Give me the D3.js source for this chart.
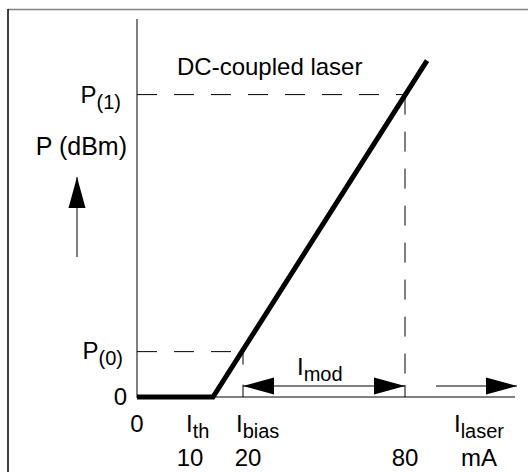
<!DOCTYPE html>
<html>
<head>
<meta charset="utf-8">
<script src="https://cdn.jsdelivr.net/npm/d3@7"></script>
<style>
  body { margin: 0; background: #fff; }
  text { font-family: "Liberation Sans", Arial, sans-serif; fill: #000; }
</style>
</head>
<body>
<div id="chart"></div>
<script>
//laser current (mA) vs optical power (arbitrary units), schematic
let laserCurrent = [0, 10, 84];
let laserPower = [0, 0, 8.9];

//operating points
let iThreshold = 10;
let iBias = 20;
let iHigh = 80;
let p0 = 1.2;
let p1 = 8.0;

//tick labels on the current axis
let tickValues = [0, 10, 20, 80];
let tickNames = ["0", "10", "20", "80"];

let width = 528, height = 472;
let mainSize = "24px", subSize = "20px";

let svg = d3.select("#chart")
    .append("svg")
    .attr("width", width)
    .attr("height", height);

//frame
svg.append("line").attr("x1", 8).attr("x2", width).attr("y1", 9.5).attr("y2", 9.5)
    .attr("stroke", "#808080").attr("stroke-width", 1.5);
svg.append("line").attr("x1", 8).attr("x2", 8).attr("y1", 9).attr("y2", height)
    .attr("stroke", "#000").attr("stroke-width", 1.5);

//schematic (piecewise) current scale
let x = d3.scaleLinear()
    .domain([0, 10, 20, 80, 100])
    .range([137, 213, 243, 405, 515]);

let y = d3.scaleLinear()
    .domain([0, 10])
    .range([397, 19]);

//axes
svg.append("line")
    .attr("x1", x(0)).attr("x2", x(0)).attr("y1", y(10)).attr("y2", y(0) + 1)
    .attr("stroke", "#808080").attr("stroke-width", 2);
svg.append("line")
    .attr("x1", x(0)).attr("x2", x(100)).attr("y1", y(0)).attr("y2", y(0))
    .attr("stroke", "#808080").attr("stroke-width", 2);

//dashed guides
let dash = "20,17";
svg.append("line")
    .attr("x1", x(0)).attr("x2", x(iHigh)).attr("y1", y(p1)).attr("y2", y(p1))
    .attr("stroke", "#000").attr("stroke-width", 1).attr("stroke-dasharray", dash);
svg.append("line")
    .attr("x1", x(iHigh)).attr("x2", x(iHigh)).attr("y1", y(p1)).attr("y2", y(0) - 12)
    .attr("stroke", "#000").attr("stroke-width", 1).attr("stroke-dasharray", dash);
svg.append("line")
    .attr("x1", x(0)).attr("x2", x(iBias)).attr("y1", y(p0)).attr("y2", y(p0))
    .attr("stroke", "#000").attr("stroke-width", 1).attr("stroke-dasharray", dash);
svg.append("line")
    .attr("x1", x(iBias)).attr("x2", x(iBias)).attr("y1", y(p0)).attr("y2", y(0) - 12)
    .attr("stroke", "#000").attr("stroke-width", 1).attr("stroke-dasharray", "13,20");

//extension ticks for the modulation arrow
[iBias, iHigh].forEach(function(v) {
    svg.append("line")
        .attr("x1", x(v)).attr("x2", x(v)).attr("y1", y(0) - 12).attr("y2", y(0))
        .attr("stroke", "#000").attr("stroke-width", 1);
});

//laser characteristic
let line = d3.line()
    .x(function(d, i) { return x(laserCurrent[i]) })
    .y(function(d, i) { return y(laserPower[i]) });

svg.append("path")
    .attr("d", line(laserCurrent))
    .attr("fill", "none")
    .attr("stroke", "#000")
    .attr("stroke-width", 5)
    .attr("stroke-linejoin", "miter");

//arrow helper: line with filled head(s)
function arrow(x1, y1, x2, y2, both) {
    let len = 31, half = 8.5;
    let dx = x2 - x1, dy = y2 - y1;
    let d = Math.sqrt(dx * dx + dy * dy);
    let ux = dx / d, uy = dy / d;
    svg.append("line")
        .attr("x1", x1).attr("y1", y1).attr("x2", x2).attr("y2", y2)
        .attr("stroke", "#000").attr("stroke-width", 1);
    let head = function(tx, ty, sx, sy) {
        let bx = tx - sx * len, by = ty - sy * len;
        svg.append("path")
            .attr("d", `M${tx},${ty}L${bx - sy * half},${by + sx * half}L${bx + sy * half},${by - sx * half}Z`)
            .attr("fill", "#000");
    };
    head(x2, y2, ux, uy);
    if (both) head(x1, y1, -ux, -uy);
}

let arrowY = y(0) - 11;
arrow(x(iBias), arrowY, x(iHigh), arrowY, true);
arrow(436, arrowY, 517, arrowY, false);
arrow(77, 257, 77, 177, false);

//subscript text helper
function subText(px, py, main, sub, anchor) {
    let t = svg.append("text")
        .attr("x", px).attr("y", py)
        .attr("text-anchor", anchor)
        .style("font-size", mainSize);
    t.append("tspan").text(main);
    t.append("tspan").attr("dy", 6).style("font-size", subSize).text(sub);
    return t;
}

//y labels
subText(121, y(p1) + 8, "P", "(1)", "end");
subText(123, y(p0) + 7, "P", "(0)", "end");
svg.append("text")
    .attr("x", 127).attr("y", y(0) + 8)
    .attr("text-anchor", "end")
    .style("font-size", mainSize)
    .text("0");
svg.append("text")
    .attr("x", 127).attr("y", 155)
    .attr("text-anchor", "end")
    .style("font-size", "25px")
    .text("P (dBm)");

//title
svg.append("text")
    .attr("x", 177).attr("y", 75)
    .style("font-size", mainSize)
    .text("DC-coupled laser");

//modulation label
subText(297, 375, "I", "mod", "start");

//current tick values
let tickShift = [0, -23, 5, 0];
svg.append("g").selectAll("text")
    .data(tickValues)
    .enter()
    .append("text")
    .attr("x", function(d, i) { return x(d) + tickShift[i] })
    .attr("y", function(d, i) { return i == 0 ? 432 : 466 })
    .attr("text-anchor", "middle")
    .style("font-size", mainSize)
    .text(function(d, i) { return tickNames[i] });

//current names
subText(186, 432, "I", "th", "start");
subText(236, 432, "I", "bias", "start");
subText(454, 432, "I", "laser", "start");
svg.append("text")
    .attr("x", 479).attr("y", 466)
    .attr("text-anchor", "middle")
    .style("font-size", mainSize)
    .text("mA");
</script>
</body>
</html>
